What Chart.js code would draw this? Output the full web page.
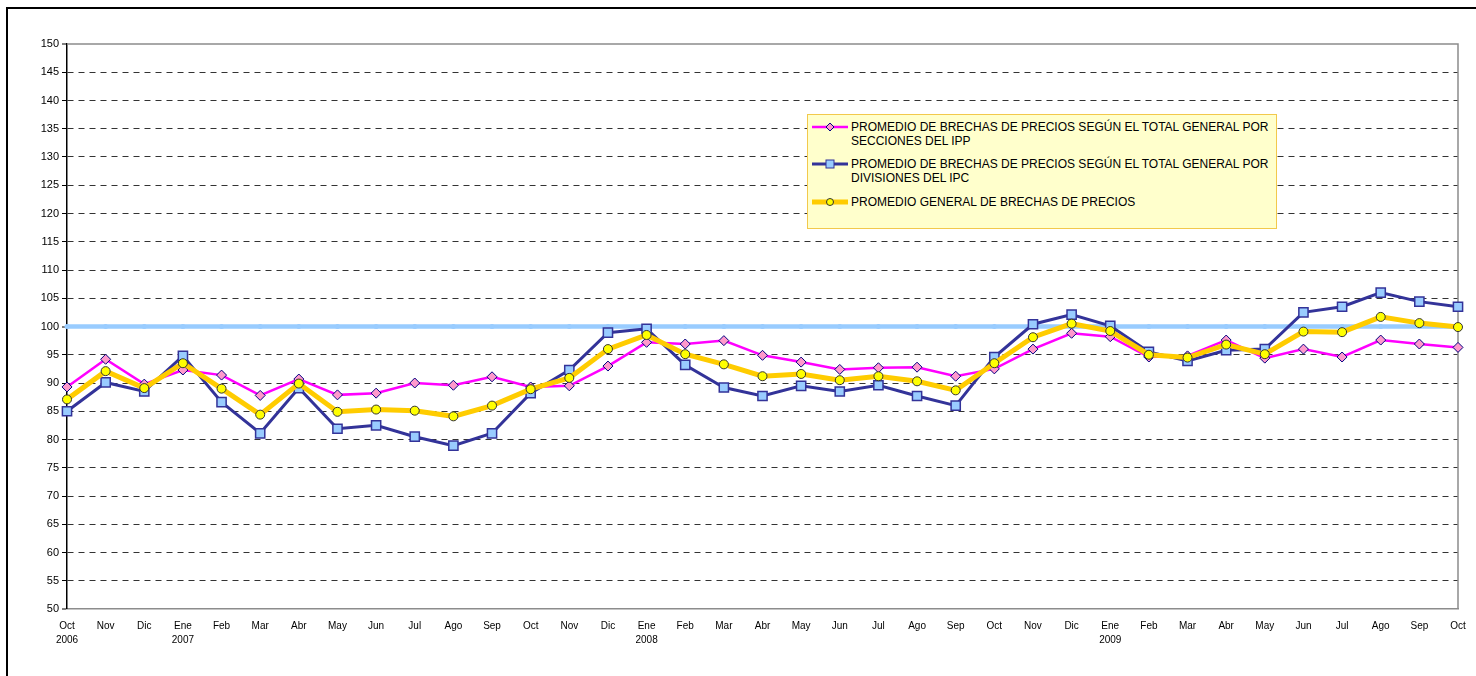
<!DOCTYPE html>
<html>
<head>
<meta charset="utf-8">
<script src="https://cdn.jsdelivr.net/npm/chart.js@4/dist/chart.umd.min.js"></script>
<style>
  html, body { margin: 0; background: #fff; overflow: hidden; font-family: "Liberation Sans", Arial, sans-serif; }
  #wrap { position: relative; width: 1476px; height: 676px; overflow: hidden; }
  #chart { position: absolute; left: 0; top: 0; }
  #legend { position: absolute; left: 807px; top: 114px; width: 468px; height: 113px; background: #ffffcc; border: 1px solid #f2c94c; font-size: 12px; color: #000; }
  .item { position: absolute; left: 4px; display: flex; align-items: flex-start; }
  .item svg { flex: none; margin-right: 3px; }
  .item span { line-height: 14px; white-space: nowrap; }
</style>
</head>
<body>
<div id="wrap">
  <canvas id="chart" width="1476" height="676"></canvas>
  <div id="legend">
    <div class="item" style="top:5px">
      <svg width="36" height="14"><line x1="0" y1="7" x2="36" y2="7" stroke="#ff00ff" stroke-width="2.5"/><polygon points="18,3 22,7 18,11 14,7" fill="#ff99cc" stroke="#000080" stroke-width="1"/></svg>
      <span>PROMEDIO DE BRECHAS DE PRECIOS SEGÚN EL TOTAL GENERAL POR<br>SECCIONES DEL IPP</span>
    </div>
    <div class="item" style="top:42px">
      <svg width="36" height="14"><line x1="0" y1="7" x2="36" y2="7" stroke="#333399" stroke-width="3"/><rect x="14" y="3" width="8" height="8" fill="#99ccff" stroke="#333399" stroke-width="1"/></svg>
      <span>PROMEDIO DE BRECHAS DE PRECIOS SEGÚN EL TOTAL GENERAL POR<br>DIVISIONES DEL IPC</span>
    </div>
    <div class="item" style="top:80px">
      <svg width="36" height="14"><line x1="0" y1="7" x2="36" y2="7" stroke="#ffcc00" stroke-width="5"/><circle cx="18" cy="7" r="3.5" fill="#ffff00" stroke="#333" stroke-width="1"/></svg>
      <span>PROMEDIO GENERAL DE BRECHAS DE PRECIOS</span>
    </div>
  </div>
</div>
<script>
const months = [
  ['Oct', '2006'], 'Nov', 'Dic', ['Ene', '2007'], 'Feb', 'Mar', 'Abr', 'May', 'Jun', 'Jul', 'Ago', 'Sep',
  'Oct', 'Nov', 'Dic', ['Ene', '2008'], 'Feb', 'Mar', 'Abr', 'May', 'Jun', 'Jul', 'Ago', 'Sep',
  'Oct', 'Nov', 'Dic', ['Ene', '2009'], 'Feb', 'Mar', 'Abr', 'May', 'Jun', 'Jul', 'Ago', 'Sep', 'Oct'
];

// promedio por secciones del IPP
const seccionesIPP = [
  89.3, 94.2, 89.8, 92.3, 91.4, 87.8, 90.7, 87.9, 88.2, 90.0, 89.6, 91.1,
  89.3, 89.5, 93.0, 97.2, 96.9, 97.5, 94.9, 93.7, 92.4, 92.7, 92.8, 91.2,
  92.5, 96.0, 98.8, 98.2, 94.6, 94.8, 97.6, 94.4, 96.0, 94.6, 97.6, 96.9, 96.3
];

// promedio por divisiones del IPC
const divisionesIPC = [
  85.0, 90.1, 88.5, 94.8, 86.6, 81.1, 89.1, 81.9, 82.5, 80.5, 78.9, 81.1,
  88.2, 92.3, 98.9, 99.6, 93.2, 89.2, 87.7, 89.5, 88.5, 89.6, 87.7, 86.0,
  94.6, 100.4, 102.1, 100.1, 95.5, 93.9, 95.8, 96.0, 102.5, 103.5, 106.0, 104.4, 103.5
];

// promedio general
const promedioGeneral = [
  87.1, 92.1, 89.1, 93.5, 89.0, 84.4, 89.9, 84.9, 85.3, 85.1, 84.1, 86.0,
  88.9, 90.9, 96.0, 98.5, 95.1, 93.3, 91.2, 91.6, 90.5, 91.2, 90.3, 88.7,
  93.5, 98.1, 100.5, 99.2, 95.0, 94.5, 96.8, 95.1, 99.1, 99.0, 101.7, 100.6, 99.9
];

// linea de referencia = 100
const referencia = [
  100, 100, 100, 100, 100, 100, 100, 100, 100, 100, 100, 100,
  100, 100, 100, 100, 100, 100, 100, 100, 100, 100, 100, 100,
  100, 100, 100, 100, 100, 100, 100, 100, 100, 100, 100, 100, 100
];

const yMin = 50, yMax = 150, yStep = 5;

// outer black frame (left + top) and gray top/right edge of the plot area
const frames = {
  id: 'frames',
  beforeDraw(chart) {
    const { ctx } = chart;
    ctx.save();
    ctx.strokeStyle = '#000';
    ctx.lineWidth = 2;
    ctx.beginPath();
    ctx.moveTo(7, chart.height + 2);
    ctx.lineTo(7, 8);
    ctx.lineTo(chart.width + 2, 8);
    ctx.stroke();
    ctx.restore();
  },
  beforeDatasetsDraw(chart) {
    const { ctx, chartArea: a } = chart;
    ctx.save();
    ctx.strokeStyle = '#8c8c8c';
    ctx.lineWidth = 1.5;
    ctx.beginPath();
    ctx.moveTo(a.left, a.top);
    ctx.lineTo(a.right, a.top);
    ctx.lineTo(a.right, a.bottom);
    ctx.stroke();
    ctx.restore();
  }
};

new Chart(document.getElementById('chart'), {
  type: 'line',
  data: {
    labels: months,
    datasets: [
      {
        label: 'PROMEDIO GENERAL DE BRECHAS DE PRECIOS',
        data: promedioGeneral,
        borderColor: '#ffcc00',
        borderWidth: 5,
        pointStyle: 'circle',
        pointRadius: 4.5,
        pointBackgroundColor: '#ffff00',
        pointBorderColor: '#333333',
        pointBorderWidth: 1,
        tension: 0,
        order: 0
      },
      {
        label: 'PROMEDIO DE BRECHAS DE PRECIOS SEGÚN EL TOTAL GENERAL POR DIVISIONES DEL IPC',
        data: divisionesIPC,
        borderColor: '#333399',
        borderWidth: 3,
        pointStyle: 'rect',
        pointRadius: 6.5,
        pointBackgroundColor: '#99ccff',
        pointBorderColor: '#333399',
        pointBorderWidth: 1.5,
        tension: 0,
        order: 1
      },
      {
        label: 'PROMEDIO DE BRECHAS DE PRECIOS SEGÚN EL TOTAL GENERAL POR SECCIONES DEL IPP',
        data: seccionesIPP,
        borderColor: '#ff00ff',
        borderWidth: 2.5,
        pointStyle: 'rectRot',
        pointRadius: 5,
        pointBackgroundColor: '#ff99cc',
        pointBorderColor: '#000080',
        pointBorderWidth: 1,
        tension: 0,
        order: 2
      },
      {
        label: 'ref',
        data: referencia,
        borderColor: '#99ccff',
        borderWidth: 4.5,
        pointStyle: 'circle',
        pointRadius: 2.5,
        pointBackgroundColor: '#99ccff',
        pointBorderColor: '#99ccff',
        pointBorderWidth: 0,
        tension: 0,
        order: 3
      }
    ]
  },
  options: {
    responsive: false,
    animation: false,
    layout: { padding: { left: 0, top: 44, right: 18, bottom: 0 } },
    plugins: {
      legend: { display: false },
      tooltip: { enabled: false },
      title: { display: false }
    },
    scales: {
      x: {
        offset: false,
        afterFit: (s) => { s.height = 67; },
        grid: { display: false, drawTicks: false },
        border: { display: true, color: '#8c8c8c', width: 1.5 },
        ticks: {
          autoSkip: false,
          maxRotation: 0,
          minRotation: 0,
          padding: 10,
          color: '#000',
          font: { family: '"Liberation Sans", Arial, sans-serif', size: 10, lineHeight: 1.4 }
        }
      },
      y: {
        min: yMin,
        max: yMax,
        afterFit: (s) => { s.width = 67; },
        grid: {
          color: '#333333',
          lineWidth: (c) => (c.tick && (c.tick.value === yMin || c.tick.value === yMax || c.tick.value === 100)) ? 0 : 1,
          drawTicks: true,
          tickLength: 5,
          tickColor: '#000',
          tickWidth: 1
        },
        border: { display: true, color: '#000', width: 1.5, dash: [6, 5] },
        ticks: {
          stepSize: yStep,
          padding: 3,
          color: '#000',
          font: { family: '"Liberation Sans", Arial, sans-serif', size: 11 }
        }
      }
    }
  },
  plugins: [frames]
});
</script>
</body>
</html>
